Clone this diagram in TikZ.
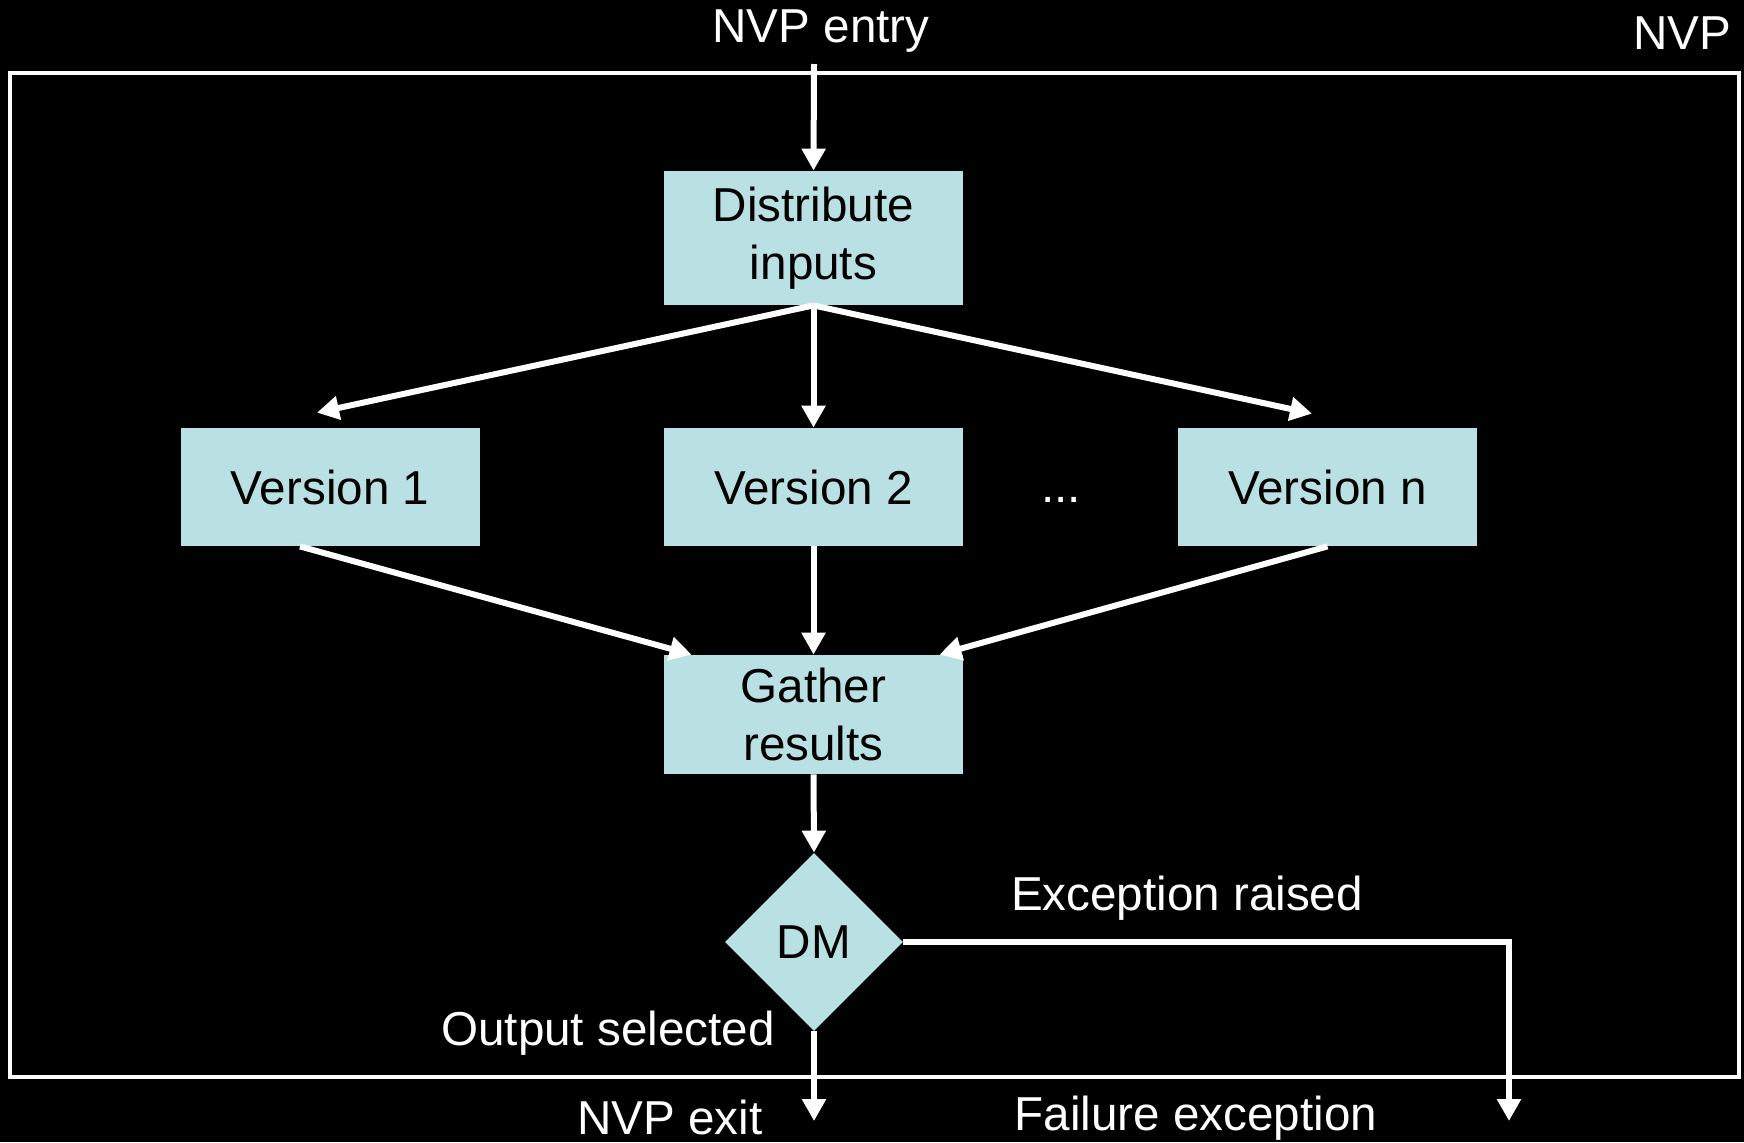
\documentclass[tikz,border=0pt]{standalone}
\usepackage{fontspec}
\setmainfont{Liberation Sans}
\usetikzlibrary{shapes.geometric}
\usetikzlibrary{arrows.meta}
\definecolor{boxcyan}{RGB}{185,224,227}

\begin{document}
\begin{tikzpicture}[x=0.5pt,y=-0.5pt,
    box/.style={fill=boxcyan,minimum width=149.5pt,minimum height=59pt,inner sep=0pt,
        align=center,font=\fontsize{23.8}{29}\selectfont},
    lbl/.style={text=white,inner sep=0pt,font=\fontsize{23.8}{29}\selectfont},
    arr/.style={white,line width=3pt,-{Triangle[length=11pt,width=11.5pt]}}]
            \fill[black] (0,0) rectangle (1744,1142);
            \useasboundingbox (0,0) rectangle (1744,1142);
            % frame of the NVP block
            \draw[white,line width=1.8pt] (10,73) rectangle (1739,1077);
            \node[lbl] (nvp) at (1682,33) {NVP};
            \node[lbl] (entrytxt) at (821,31) {NVP entry};
            % boxes
            \node[box,minimum height=67pt] (dist) at (813.5,238) {Distribute\\inputs};
            \node[box] (v1) at (330,487) {Version 1};
            \node[box] (v2) at (813.5,487) {Version 2};
            \node[box] (vn) at (1327.5,487) {Version n};
            \node[lbl] (dots) at (1061,500) {...};
            \node[box,minimum height=59.5pt] (gather) at (813.5,714.5) {Gather\\results};
            \node[diamond,fill=boxcyan,aspect=1,minimum width=89pt,minimum height=89pt,inner sep=0pt,
                font=\fontsize{23.8}{29}\selectfont] (dm) at (814,942) {DM};
            \node[lbl] (exctxt) at (1187,898) {Exception raised};
            \node[lbl] (outtxt) at (608,1033) {Output selected};
            \node[lbl] (exittxt) at (670,1117) {NVP exit};
            \node[lbl] (failtxt) at (1196,1118) {Failure exception};
            \coordinate (entry) at (814,64);
            \coordinate (exit) at (814,1121);
            \coordinate (corner) at (1509,942);
            \coordinate (fail) at (1509,1121);
            % connectors
            \draw[arr] (entry) -- (dist.north);
            \draw[arr] (dist.south) -- ([xshift=-6.5pt,yshift=7.5pt]v1.north);
            \draw[arr] (dist.south) -- (v2.north);
            \draw[arr] (dist.south) -- ([xshift=-7.75pt,yshift=7pt]vn.north);
            \draw[arr] ([xshift=-15pt]v1.south) -- ([xshift=14pt]gather.north west);
            \draw[arr] (v2.south) -- (gather.north);
            \draw[arr] (vn.south) -- ([xshift=-12pt]gather.north east);
            \draw[arr] (gather.south) -- (dm.north);
            \draw[arr] (dm.south) -- (exit);
            \draw[arr] (dm.east) -- (corner) -- (fail);
        \end{tikzpicture}
\end{document}
